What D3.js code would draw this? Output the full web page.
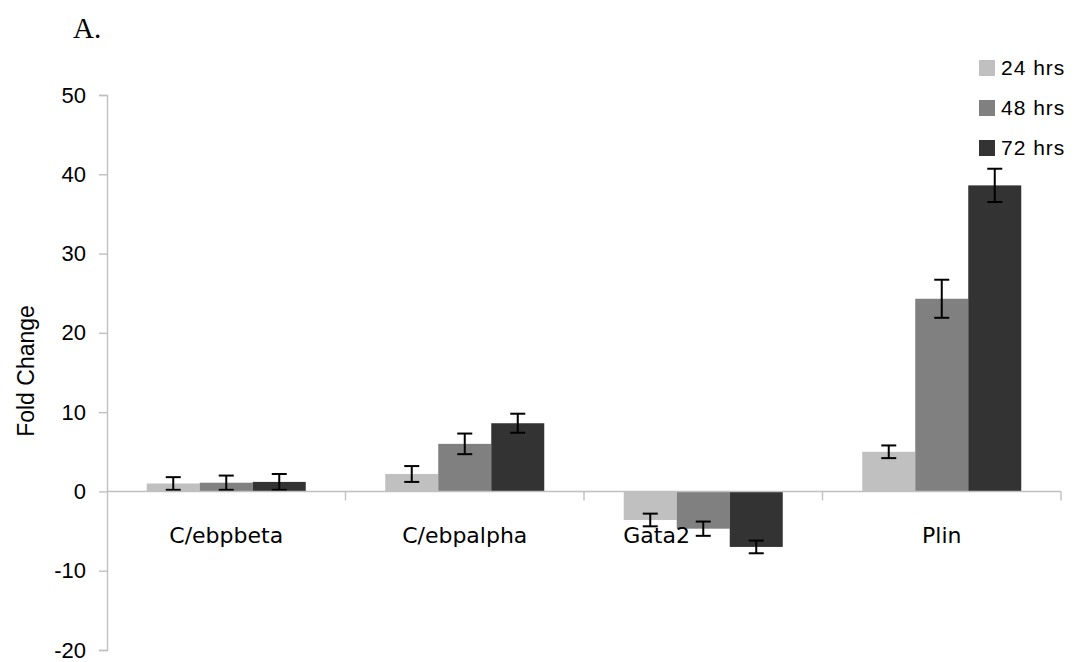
<!DOCTYPE html>
<html>
<head>
<meta charset="utf-8">
<script src="https://cdn.jsdelivr.net/npm/d3@7"></script>
<style>
  html, body { margin: 0; padding: 0; background: #fff; }
  svg { display: block; }
</style>
</head>
<body>
<svg id="chart" width="1075" height="662"></svg>
<script>
// Gene expression fold change at three time points
const genes = ["C/ebpbeta", "C/ebpalpha", "Gata2", "Plin"];
const timepoints = ["24 hrs", "48 hrs", "72 hrs"];
const fold24 = [1.0, 2.2, -3.6, 5.0];
const fold48 = [1.1, 6.0, -4.7, 24.3];
const fold72 = [1.2, 8.6, -7.0, 38.6];
const err24 = [0.8, 1.0, 0.8, 0.8];
const err48 = [0.9, 1.3, 0.9, 2.4];
const err72 = [1.0, 1.2, 0.8, 2.1];
const yTicks = [-20, -10, 0, 10, 20, 30, 40, 50];
const colors = ["#c0c0c0", "#808080", "#333333"];

const series = timepoints.map((t, i) => ({
  name: t,
  color: colors[i],
  values: [fold24, fold48, fold72][i],
  errors: [err24, err48, err72][i]
}));

const svg = d3.select("#chart");
const plotLeft = 107, plotRight = 1061, plotTop = 95, plotBottom = 650;

const x = d3.scaleBand().domain(genes).range([plotLeft, plotRight]).paddingInner(0).paddingOuter(0);
const groupWidth = 159;
const xs = d3.scaleBand().domain(timepoints)
  .range([(x.bandwidth() - groupWidth) / 2, (x.bandwidth() + groupWidth) / 2]);
const y = d3.scaleLinear().domain([-20, 50]).range([plotBottom, plotTop]);

const axisColor = "#c0c0c0";

// Title
svg.append("text").attr("x", 73).attr("y", 38)
  .attr("font-family", "Liberation Serif, Times New Roman, serif")
  .attr("font-size", 29).attr("fill", "#000").text("A.");

// Y axis
const yAxis = svg.append("g").attr("transform", `translate(${plotLeft},0)`)
  .call(d3.axisLeft(y).tickValues(yTicks).tickSize(8).tickPadding(13).tickFormat(d => String(d)));
yAxis.select(".domain").attr("stroke", axisColor).attr("stroke-width", 1.4);
yAxis.selectAll(".tick line").attr("stroke", axisColor).attr("stroke-width", 1.4);
yAxis.selectAll(".tick text")
  .attr("font-family", "Liberation Sans, Arial, sans-serif")
  .attr("font-size", 22).attr("fill", "#000");

// Y axis title
svg.append("text")
  .attr("transform", `translate(34,371) rotate(-90)`)
  .attr("text-anchor", "middle")
  .attr("font-family", "Liberation Sans, Arial, sans-serif")
  .attr("font-size", 23).attr("fill", "#000").text("Fold Change");

// Bars
const groups = svg.append("g").selectAll("g").data(series).join("g")
  .attr("fill", d => d.color);
groups.selectAll("rect")
  .data(s => s.values.map((v, i) => ({ gene: genes[i], v, t: s.name })))
  .join("rect")
  .attr("x", d => x(d.gene) + xs(d.t))
  .attr("width", xs.bandwidth())
  .attr("y", d => y(Math.max(0, d.v)))
  .attr("height", d => Math.abs(y(d.v) - y(0)));

// Error bars
const eb = svg.append("g").attr("stroke", "#000").attr("stroke-width", 2).attr("fill", "none");
series.forEach(s => {
  s.values.forEach((v, i) => {
    const cx = x(genes[i]) + xs(s.name) + xs.bandwidth() / 2;
    const e = s.errors[i];
    const g = eb.append("g");
    g.append("line").attr("x1", cx).attr("x2", cx).attr("y1", y(v + e)).attr("y2", y(v - e));
    g.append("line").attr("x1", cx - 7.5).attr("x2", cx + 7.5).attr("y1", y(v + e)).attr("y2", y(v + e));
    g.append("line").attr("x1", cx - 7.5).attr("x2", cx + 7.5).attr("y1", y(v - e)).attr("y2", y(v - e));
  });
});

// X axis along zero
const xAxis = svg.append("g").attr("transform", `translate(0,${y(0)})`);
xAxis.append("line").attr("x1", plotLeft).attr("x2", plotRight).attr("y1", 0).attr("y2", 0)
  .attr("stroke", axisColor).attr("stroke-width", 1.4);
const bounds = genes.map(g => x(g) + x.bandwidth());
xAxis.selectAll("line.tk").data(bounds).join("line").attr("class", "tk")
  .attr("x1", d => d).attr("x2", d => d).attr("y1", 0).attr("y2", 9)
  .attr("stroke", axisColor).attr("stroke-width", 1.4);

// Category labels; a group whose bars hang below zero has its label
// moved left so it clears the deepest bar
const labelX = (g, i) => {
  const hangs = fold72[i] < 0;
  return hangs ? x(g) + xs(timepoints[0]) + xs.bandwidth() * 0.62
               : x(g) + x.bandwidth() / 2;
};
xAxis.selectAll("text").data(genes).join("text")
  .attr("x", (d, i) => labelX(d, i))
  .attr("y", 52)
  .attr("text-anchor", "middle")
  .attr("font-family", "DejaVu Sans, Verdana, sans-serif")
  .attr("font-size", 22).attr("fill", "#000")
  .text(d => d);

// Legend
const legend = svg.append("g").selectAll("g").data(series).join("g")
  .attr("transform", (d, i) => `translate(979,${60 + i * 40})`);
legend.append("rect").attr("width", 16).attr("height", 16).attr("fill", d => d.color);
legend.append("text").attr("x", 22).attr("y", 15)
  .attr("font-family", "Liberation Sans, Arial, sans-serif")
  .attr("letter-spacing", 1)
  .attr("font-size", 21).attr("fill", "#000").text(d => d.name);
</script>
</body>
</html>
